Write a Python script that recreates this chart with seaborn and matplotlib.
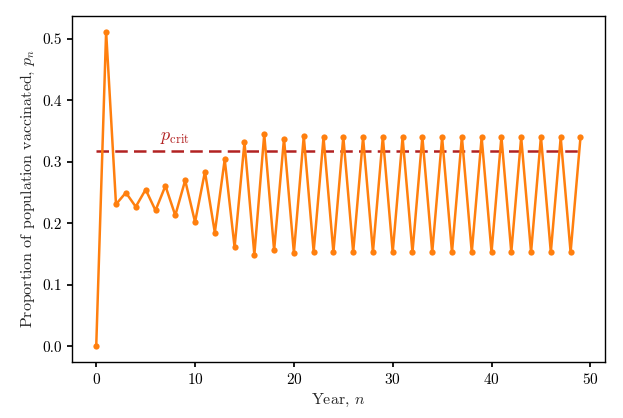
import numpy as np
import pandas as pd
import seaborn as sns
import matplotlib
matplotlib.use("Agg")
import matplotlib.pyplot as plt

years = list(range(50))
proportion = [0.0, 0.512, 0.231, 0.250, 0.227, 0.255, 0.221, 0.261, 0.213, 0.270,
              0.202, 0.284, 0.185, 0.304, 0.161, 0.332, 0.149, 0.345, 0.156, 0.338,
              0.152, 0.342, 0.154, 0.340, 0.153, 0.341, 0.153, 0.340, 0.153, 0.341,
              0.153, 0.340, 0.153, 0.341, 0.153, 0.340, 0.153, 0.341, 0.153, 0.340,
              0.153, 0.341, 0.153, 0.340, 0.153, 0.341, 0.153, 0.340, 0.153, 0.340]
p_crit = 0.318

sns.set_theme(style="ticks")
plt.rcParams.update({
    "font.family": ["serif"],
    "font.serif": ["cmr10", "DejaVu Serif"],
    "mathtext.fontset": "cm",
    "axes.formatter.use_mathtext": True,
    "font.size": 11,
    "axes.labelsize": 11.5,
    "xtick.labelsize": 11,
    "ytick.labelsize": 11,
    "axes.edgecolor": "black",
    "axes.linewidth": 1.0,
    "xtick.color": "black",
    "ytick.color": "black",
    "xtick.major.size": 3.5,
    "ytick.major.size": 3.5,
})

df = pd.DataFrame({"year": years, "p": proportion})

fig = plt.figure(figsize=(6.23, 4.18), dpi=100)
ax = fig.add_axes([0.1156, 0.134, 0.855, 0.828])

ax.hlines(p_crit, years[0], years[-1], colors="#b22222", linestyles=(0, (5, 2.5)), linewidth=1.8)
sns.lineplot(data=df, x="year", y="p", ax=ax, color="#ff7f0e", linewidth=1.8,
             marker="o", markersize=4.5, markeredgewidth=0)
ax.text(8, 0.326, r"$p_{\mathrm{crit}}$", color="#b22222", ha="center", va="bottom", fontsize=13)

ax.set_xlabel(r"Year, $n$")
ax.set_ylabel(r"Proportion of population vaccinated, $p_n$")
ax.set_xticks([0, 10, 20, 30, 40, 50])
ax.set_yticks([0.0, 0.1, 0.2, 0.3, 0.4, 0.5])
ax.set_yticklabels(["0.0", "0.1", "0.2", "0.3", "0.4", "0.5"])
ax.set_xlim(-2.45, 51.45)
ax.set_ylim(-0.0256, 0.5376)

fig.savefig("out.png", dpi=100)
